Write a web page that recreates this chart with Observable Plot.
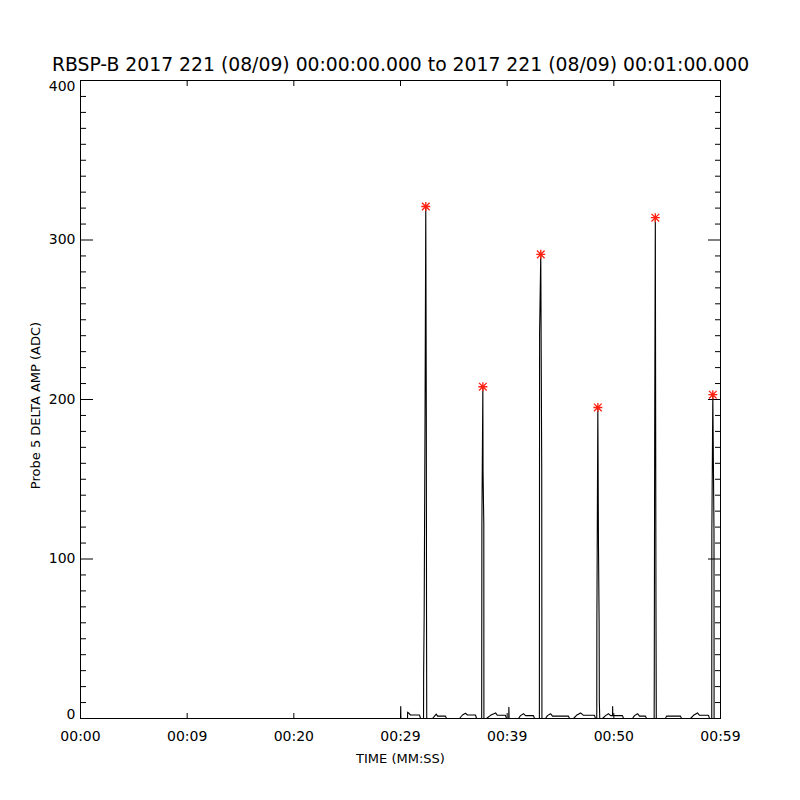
<!DOCTYPE html>
<html><head><meta charset="utf-8">
<script src="https://cdn.jsdelivr.net/npm/d3@7"></script>
<script src="https://cdn.jsdelivr.net/npm/@observablehq/plot@0.6"></script>
<style>body{margin:0;background:#fff} svg{display:block}</style>
</head><body><div id="chart"></div>
<script>
const titleText = "RBSP-B 2017 221 (08/09) 00:00:00.000 to 2017 221 (08/09) 00:01:00.000";
const xLabel = "TIME (MM:SS)";
const yLabel = "Probe 5 DELTA AMP (ADC)";
const xTickValues = [0, 10, 20, 30, 40, 50, 60];
const xTickLabels = ["00:00", "00:09", "00:20", "00:29", "00:39", "00:50", "00:59"];
const yMajorTicks = [0, 100, 200, 300, 400];
const yMinorTicks = d3.range(0, 401, 10).filter(v => v % 100 !== 0);

// time (s) and amplitude (ADC) of the traced line
const times = [
  30.00, 30.02, 30.04, 30.66, 30.67, 30.75, 30.94, 31.78, 31.88,
  32.16, 32.17, 32.22, 32.30, 32.37, 32.42, 32.44, 32.46,
  33.00, 33.19, 33.35, 33.47, 34.22, 34.31, 35.53, 35.81, 36.09, 36.28, 37.03, 37.13,
  37.61, 37.63, 37.72, 37.74, 37.81, 37.82,
  38.06, 38.44, 38.91, 39.09, 39.84, 39.94, 40.15, 40.16, 40.18, 41.06, 41.25, 41.53, 41.72, 42.47, 42.56,
  43.02, 43.04, 43.15, 43.24, 43.26,
  43.59, 43.78, 44.06, 44.25, 45.75, 45.84, 46.22, 46.50, 46.88, 47.16, 48.19, 48.28,
  48.40, 48.41, 48.50, 48.56, 48.62, 48.64, 48.68,
  48.94, 49.22, 49.50, 49.69, 49.88, 49.89, 49.90, 50.81, 50.91, 51.75, 51.94, 52.22, 52.41, 52.97, 53.06,
  53.78, 53.79, 53.83, 53.89, 53.95, 53.98,
  54.84, 54.94, 56.25, 56.34, 57.19, 57.47, 57.84, 58.03, 58.88, 58.97,
  59.18, 59.19, 59.28, 59.34, 59.39, 59.40, 59.63
];
const amps = [
  0, 7.5, 0, 0, 4, 3.5, 2.2, 2.2, 0,
  0, 28, 66, 189, 321, 189, 66, 0,
  0, 1.5, 2.8, 1.5, 1.5, 0, 0, 2.2, 3.3, 2.2, 2.2, 0,
  0, 122, 208, 154, 122, 0,
  0, 2, 3.5, 2, 2, 0, 0, 7, 0, 0, 1.8, 3, 1.8, 1.8, 0,
  0, 242, 291, 156, 0,
  0, 1.8, 3, 1.5, 1.5, 0, 0, 2, 3.5, 2, 2, 0,
  0, 60, 195, 109, 60, 11, 0,
  0, 1.8, 3, 1.8, 1.8, 7.5, 1.8, 1.8, 0, 0, 1.8, 3, 1.5, 1.5, 0,
  0, 23, 181, 314, 72, 0,
  0, 1.5, 1.5, 0, 0, 2, 3.5, 2, 2, 0,
  0, 117, 203, 155, 117, 0, 0
];
const peakTimes = [32.37, 37.72, 43.15, 48.50, 53.89, 59.28];
const peakAmps = [321, 208, 291, 195, 314, 203];

const line = times.map((t, i) => ({t, a: amps[i]}));
const peaks = peakTimes.map((t, i) => ({t, a: peakAmps[i]}));

// IDL-style 8-armed asterisk
const star8 = {
  draw(context, size) {
    const r = Math.sqrt(size / Math.PI);
    const d = r * 0.85;
    context.moveTo(-r, 0); context.lineTo(r, 0);
    context.moveTo(0, -r); context.lineTo(0, r);
    context.moveTo(-d, -d); context.lineTo(d, d);
    context.moveTo(-d, d); context.lineTo(d, -d);
  }
};

const font = "'DejaVu Sans', 'Liberation Sans', sans-serif";

const chart = Plot.plot({
  width: 800, height: 800,
  marginLeft: 80, marginRight: 80, marginTop: 80, marginBottom: 82,
  style: {fontFamily: font, background: "white", color: "black", overflow: "visible"},
  x: {domain: [0, 60]},
  y: {domain: [0, 400]},
  marks: [
    Plot.frame({stroke: "black"}),
    Plot.axisX({anchor: "bottom", ticks: xTickValues, tickSize: 0, tickPadding: 13,
      tickFormat: d => xTickLabels[xTickValues.indexOf(d)], fontSize: 14, label: null}),
    Plot.axisX({anchor: "bottom", ticks: xTickValues, tickSize: -5, fill: "none", label: null}),
    Plot.axisX({anchor: "top", ticks: xTickValues, tickSize: -5, fill: "none", label: null}),
    Plot.axisY({anchor: "left", ticks: [100, 200, 300], tickSize: 0, tickPadding: 5, fontSize: 14, label: null}),
    Plot.axisY({anchor: "left", ticks: [400], tickSize: 0, tickPadding: 5, dy: 6, fontSize: 14, label: null}),
    Plot.axisY({anchor: "left", ticks: [0], tickSize: 0, tickPadding: 5, dy: -4, fontSize: 14, label: null}),
    Plot.axisY({anchor: "left", ticks: yMajorTicks, tickSize: -13, fill: "none", label: null}),
    Plot.axisY({anchor: "left", ticks: yMinorTicks, tickSize: -6, fill: "none", label: null}),
    Plot.axisY({anchor: "right", ticks: yMajorTicks, tickSize: -13, fill: "none", label: null}),
    Plot.axisY({anchor: "right", ticks: yMinorTicks, tickSize: -6, fill: "none", label: null}),
    Plot.line(line, {x: "t", y: "a", stroke: "black", strokeWidth: 1.1}),
    Plot.dot(peaks, {x: "t", y: "a", symbol: star8, r: 4.5, stroke: "#ff2010", strokeWidth: 1.3}),
    Plot.text([titleText], {text: d => d, frameAnchor: "top", lineAnchor: "middle", dy: -16, fontSize: 18.8}),
    Plot.text([xLabel], {text: d => d, frameAnchor: "bottom", lineAnchor: "middle", dy: 40, fontSize: 13}),
    Plot.text([yLabel], {text: d => d, frameAnchor: "left", textAnchor: "middle", lineAnchor: "middle", dx: -45, dy: 6, rotate: -90, fontSize: 13})
  ]
});
document.getElementById("chart").appendChild(chart);
</script>
</body></html>
